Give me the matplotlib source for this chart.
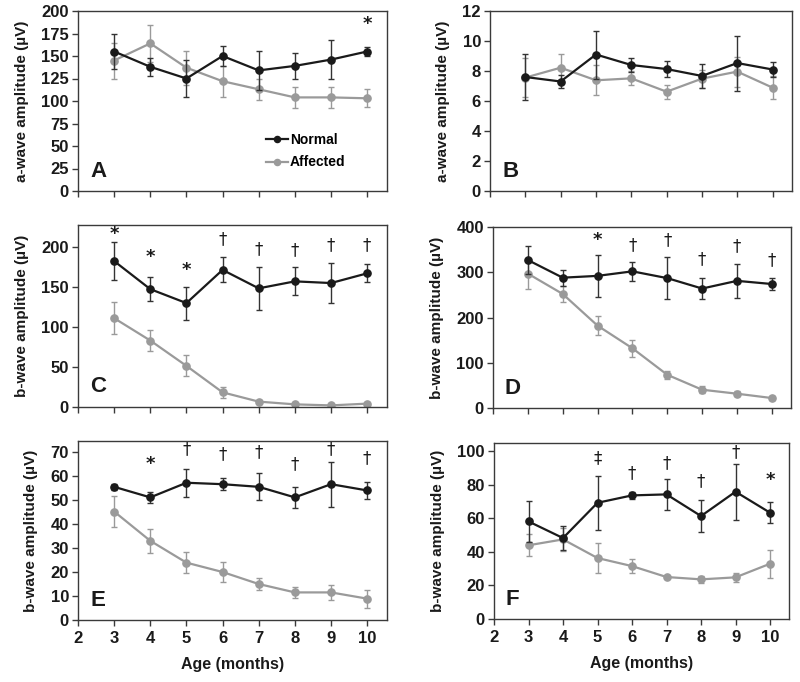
import matplotlib
matplotlib.use("Agg")
import matplotlib.pyplot as plt

plt.rcParams['font.family'] = ['Liberation Sans', 'DejaVu Sans']
plt.rcParams['font.weight'] = 'bold'

ages = [3, 4, 5, 6, 7, 8, 9, 10]

# Panel A: a-wave (uV)
a_norm = [155, 138, 125, 150, 134, 139, 146, 155]
a_norm_err = [19, 10, 21, 11, 22, 14.5, 21.5, 5.5]
a_aff = [145, 164, 137, 122, 113, 104, 104, 103]
a_aff_err = [20, 21, 19, 17, 12, 11.5, 11.5, 10]

# Panel B: a-wave (uV)
b_norm = [7.6, 7.3, 9.1, 8.4, 8.13, 7.67, 8.53, 8.1]
b_norm_err = [1.55, 0.45, 1.6, 0.45, 0.55, 0.83, 1.83, 0.5]
b_aff = [7.56, 8.22, 7.38, 7.51, 6.62, 7.49, 7.96, 6.89]
b_aff_err = [1.3, 0.9, 1.0, 0.47, 0.47, 0.6, 1.0, 0.75]

# Panel C: b-wave (uV)
c_norm = [182, 147, 129.6, 171, 148, 156.7, 154.6, 166.7]
c_norm_err = [23.5, 14.6, 20.5, 15.6, 27, 17.5, 24.7, 11.3]
c_aff = [110.8, 82.9, 51.3, 18.3, 6.7, 3.3, 2, 4.2]
c_aff_err = [20.2, 13.5, 13, 7, 2, 1.5, 1, 1.5]

# Panel D: b-wave (uV)
d_norm = [327, 288, 292, 302, 287, 264, 281, 274]
d_norm_err = [30, 18, 46, 21, 46, 24, 38, 13.6]
d_aff = [297, 252, 182, 132, 73.4, 40.4, 31.6, 22]
d_aff_err = [33, 18, 21, 19, 8.5, 7.3, 6, 5]

# Panel E: b-wave (uV)
e_norm = [55.5, 51.1, 57.2, 56.6, 55.5, 51.1, 56.6, 54]
e_norm_err = [1.2, 2.2, 5.9, 2.4, 5.6, 4.4, 9.3, 3.7]
e_aff = [45.2, 33, 23.9, 20, 15, 11.5, 11.5, 8.9]
e_aff_err = [6.6, 4.9, 4.4, 4, 2.5, 2.3, 3, 3.75]

# Panel F: b-wave (uV)
f_norm = [58.1, 48.2, 69.2, 73.6, 74.2, 61.3, 75.8, 63.3]
f_norm_err = [12, 7.4, 16, 2.2, 9.3, 9.7, 16.7, 6.3]
f_aff = [43.9, 47.4, 36.3, 31.5, 25, 23.6, 24.8, 32.9]
f_aff_err = [6.5, 7, 9, 4.1, 0.8, 2.1, 2.6, 8.4]

# Significance symbols: (age, y, symbol)
a_sig_x = [10]; a_sig_y = [185]; a_sig_s = ['*']
c_sig_x = [3, 4, 5, 6, 7, 8, 9, 10]
c_sig_y = [216, 187, 171, 209, 197, 196, 202, 202]
c_sig_s = ['*', '*', '*', '†', '†', '†', '†', '†']
d_sig_x = [5, 6, 7, 8, 9, 10]
d_sig_y = [372, 361, 371, 330, 358, 327]
d_sig_s = ['*', '†', '†', '†', '†', '†']
e_sig_x = [4, 5, 6, 7, 8, 9, 10]
e_sig_y = [65, 71, 69.3, 69.9, 65, 71, 67.5]
e_sig_s = ['*', '†', '†', '†', '†', '†', '†']
f_sig_x = [5, 6, 7, 8, 9, 10]
f_sig_y = [95.6, 87, 92.7, 82, 99.2, 83]
f_sig_s = ['‡', '†', '†', '†', '†', '*']

BLACK = '#1a1a1a'
GRAY = '#9a9a9a'
FRAME = '#3a3a3a'

W, H = 800, 682
fig = plt.figure(figsize=(W / 100, H / 100), dpi=100)


def add_ax(l, r, t, b):
    return fig.add_axes([l / W, 1 - b / H, (r - l) / W, (b - t) / H])


panels = [
    dict(box=(78, 387, 11, 191), n=a_norm, ne=a_norm_err, a=a_aff, ae=a_aff_err,
         ylim=(0, 200), yticks=range(0, 201, 25), ylabel='a-wave amplitude (µV)',
         letter='A', sig=(a_sig_x, a_sig_y, a_sig_s), xl=False),
    dict(box=(490, 792, 11, 191), n=b_norm, ne=b_norm_err, a=b_aff, ae=b_aff_err,
         ylim=(0, 12), yticks=range(0, 13, 2), ylabel='a-wave amplitude (µV)',
         letter='B', sig=([], [], []), xl=False),
    dict(box=(78, 387, 225, 407), n=c_norm, ne=c_norm_err, a=c_aff, ae=c_aff_err,
         ylim=(0, 227), yticks=range(0, 201, 50), ylabel='b-wave amplitude (µV)',
         letter='C', sig=(c_sig_x, c_sig_y, c_sig_s), xl=False),
    dict(box=(493, 791, 227, 408), n=d_norm, ne=d_norm_err, a=d_aff, ae=d_aff_err,
         ylim=(0, 400), yticks=range(0, 401, 100), ylabel='b-wave amplitude (µV)',
         letter='D', sig=(d_sig_x, d_sig_y, d_sig_s), xl=False),
    dict(box=(78, 387, 441, 620), n=e_norm, ne=e_norm_err, a=e_aff, ae=e_aff_err,
         ylim=(0, 74.6), yticks=range(0, 71, 10), ylabel='b-wave amplitude (µV)',
         letter='E', sig=(e_sig_x, e_sig_y, e_sig_s), xl=True),
    dict(box=(494, 789, 443, 619), n=f_norm, ne=f_norm_err, a=f_aff, ae=f_aff_err,
         ylim=(0, 104.8), yticks=range(0, 101, 20), ylabel='b-wave amplitude (µV)',
         letter='F', sig=(f_sig_x, f_sig_y, f_sig_s), xl=True),
]

for i, p in enumerate(panels):
    ax = add_ax(*p['box'])
    ea = ax.errorbar(ages, p['a'], yerr=p['ae'], color=GRAY, ecolor=GRAY, lw=1.6,
                     marker='o', ms=5.2, capsize=2.5, elinewidth=1.0, capthick=1.0,
                     zorder=2)
    en = ax.errorbar(ages, p['n'], yerr=p['ne'], color=BLACK, ecolor='#333333',
                     lw=1.6, marker='o', ms=5.2, capsize=2.5, elinewidth=1.0,
                     capthick=1.0, zorder=3)
    ax.set_xlim(2, 10.55)
    ax.set_ylim(*p['ylim'])
    ax.set_xticks(range(2, 11))
    ax.set_yticks(list(p['yticks']))
    ax.tick_params(direction='out', length=4, width=1, colors=FRAME,
                   labelcolor='#1a1a1a', labelsize=12, pad=2.5)
    ax.tick_params(axis='x', pad=4)
    for lab in ax.get_yticklabels() + ax.get_xticklabels():
        lab.set_fontweight('bold')
    if p['xl']:
        ax.set_xlabel('Age (months)', fontsize=11.5, fontweight='bold',
                      color='#1a1a1a', labelpad=8)
    else:
        ax.set_xticklabels([])
    ax.set_ylabel(p['ylabel'], fontsize=11, fontweight='bold', color='#1a1a1a',
                  labelpad=9)
    for s in ax.spines.values():
        s.set_color(FRAME)
        s.set_linewidth(1.0)
    ax.text(0.04, 0.11, p['letter'], transform=ax.transAxes, fontsize=16,
            fontweight='bold', color='#1a1a1a', ha='left', va='center')
    sx, sy, ss = p['sig']
    for x, y, s in zip(sx, sy, ss):
        if s == '*':
            ax.text(x, y, s, ha='center', va='center', fontsize=13,
                    fontweight='bold', color='#1a1a1a', family=['DejaVu Sans'])
        else:
            ax.text(x, y, s, ha='center', va='center', fontsize=12,
                    fontweight='normal', color='#1a1a1a', family=['DejaVu Sans'])
    if i == 0:
        leg = ax.legend([en.lines[0], ea.lines[0]], ['Normal', 'Affected'],
                        loc='upper left', bbox_to_anchor=(0.585, 0.36),
                        frameon=False, fontsize=10, handlelength=1.6,
                        handletextpad=0.15, labelspacing=0.6, borderpad=0,
                        markerscale=0.85)
        for t in leg.get_texts():
            t.set_fontweight('bold')

fig.savefig('out.png', dpi=100)
